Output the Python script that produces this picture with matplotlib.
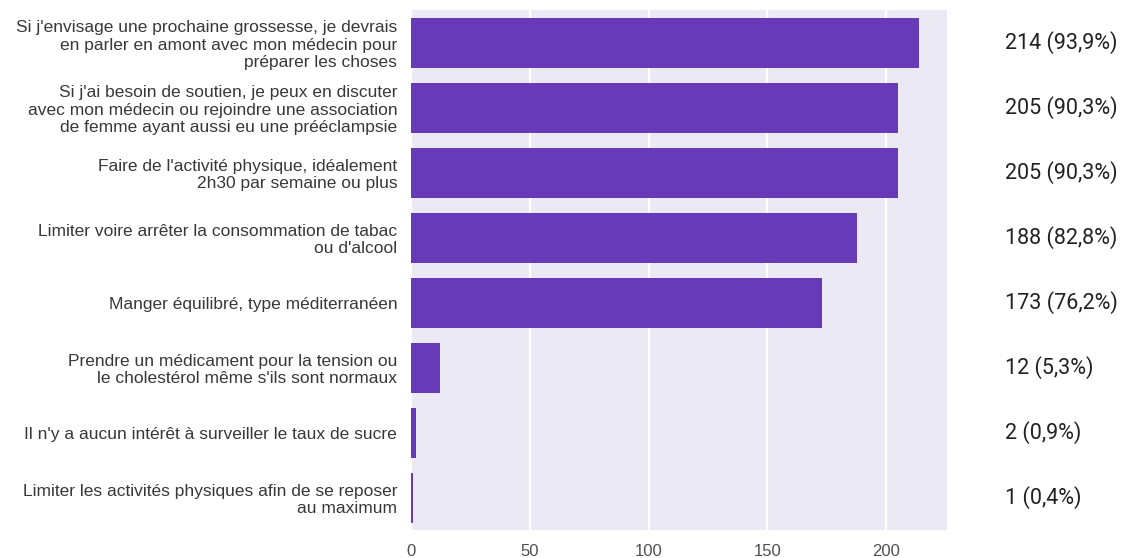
import numpy as np
import matplotlib.pyplot as plt
from matplotlib import rcParams

rcParams['font.family'] = 'Liberation Sans'

# Survey answers, counts and percentages
labels = [
    "Si j'envisage une prochaine grossesse, je devrais\nen parler en amont avec mon médecin pour\npréparer les choses",
    "Si j'ai besoin de soutien, je peux en discuter\navec mon médecin ou rejoindre une association\nde femme ayant aussi eu une prééclampsie",
    "Faire de l'activité physique, idéalement\n2h30 par semaine ou plus",
    "Limiter voire arrêter la consommation de tabac\nou d'alcool",
    "Manger équilibré, type méditerranéen",
    "Prendre un médicament pour la tension ou\nle cholestérol même s'ils sont normaux",
    "Il n'y a aucun intérêt à surveiller le taux de sucre",
    "Limiter les activités physiques afin de se reposer\nau maximum",
]
counts = [214, 205, 205, 188, 173, 12, 2, 1]
percents = ["93,9", "90,3", "90,3", "82,8", "76,2", "5,3", "0,9", "0,4"]
xticks = [0, 50, 100, 150, 200]

fig = plt.figure(figsize=(11.27, 5.58), dpi=100)
ax = fig.add_axes([0.3647, 0.050, 0.4756, 0.932])
ax.set_facecolor('#ebe9f4')

ypos = np.arange(len(counts))
ax.set_axisbelow(True)
ax.grid(axis='x', color='white', lw=1.6)
ax.barh(ypos, counts, height=0.77, color='#673ab7')

ax.set_xlim(0, 225.7)
ax.set_ylim(len(counts) - 0.5, -0.5)
ax.set_xticks(xticks)
ax.set_xticklabels([str(t) for t in xticks], fontsize=12, color='#505050')
ax.set_yticks(ypos)
ax.set_yticklabels(labels, fontsize=12.5, color='#383838', linespacing=1.18)
ax.tick_params(axis='both', length=0)
ax.tick_params(axis='y', pad=10)
ax.tick_params(axis='x', pad=10)
for s in ax.spines.values():
    s.set_visible(False)

# value annotations in the right margin
for y, c, p in zip(ypos, counts, percents):
    ax.annotate(f"{c} ({p}%)", xy=(1.0, y), xycoords=('axes fraction', 'data'),
                xytext=(41.5, 0), textcoords='offset points', fontsize=15.5,
                family='Roboto', color='#212121', va='center', ha='left')

fig.savefig('out.png', dpi=100)
